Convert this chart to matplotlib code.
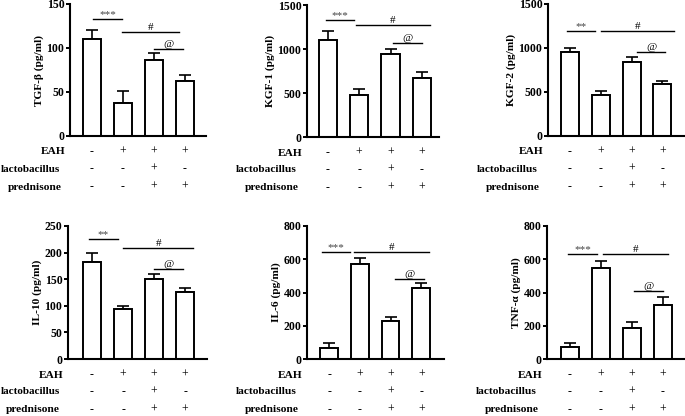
import matplotlib
matplotlib.use("Agg")
import matplotlib.pyplot as plt

plt.rcParams['font.family'] = ['Liberation Serif', 'DejaVu Serif']

groups = [0, 1, 2, 3]
row_names = ["EAH", "lactobacillus", "prednisone"]
row_signs = [["-", "+", "+", "+"],
             ["-", "-", "+", "-"],
             ["-", "-", "+", "+"]]

ylabels = ["TGF-β (pg/ml)", "KGF-1 (pg/ml)", "KGF-2 (pg/ml)",
           "IL-10 (pg/ml)", "IL-6 (pg/ml)", "TNF-α (pg/ml)"]

tgf_mean = [110, 37, 86, 62]
tgf_err = [10, 14, 8, 7]
kgf1_mean = [1100, 480, 940, 670]
kgf1_err = [100, 60, 60, 70]
kgf2_mean = [950, 470, 840, 590]
kgf2_err = [50, 40, 60, 40]
il10_mean = [183, 94, 150, 126]
il10_err = [16, 6, 10, 8]
il6_mean = [65, 570, 230, 425]
il6_err = [30, 40, 25, 30]
tnf_mean = [72, 545, 185, 325]
tnf_err = [25, 45, 40, 50]

means = [tgf_mean, kgf1_mean, kgf2_mean, il10_mean, il6_mean, tnf_mean]
errs = [tgf_err, kgf1_err, kgf2_err, il10_err, il6_err, tnf_err]
ymax = [150, 1500, 1500, 250, 800, 800]
ystep = [50, 500, 500, 50, 200, 200]

# significance annotations
sig_first = ["***", "***", "**", "**", "***", "***"]
sig_h1 = [133, 1330, 1193, 225, 644, 631]
sig_h2 = [118, 1270, 1193, 208, 644, 631]
sig_h3 = [99, 1070, 955, 169, 481, 409]
sig_x1 = [(0.03, 0.97), (-0.06, 0.84), (-0.1, 0.81), (-0.1, 0.84), (-0.23, 0.68), (-0.06, 0.87)]
sig_x2 = [(0.97, 2.8), (0.9, 3.26), (1.0, 3.39), (1.0, 3.26), (0.81, 3.26), (1.06, 3.16)]
sig_x3 = [(2.0, 2.94), (2.08, 3.0), (2.16, 3.1), (2.0, 2.94), (2.16, 3.1), (2.06, 3.0)]

# axes boxes in pixels: left, right, top, bottom
boxes = [(70, 206, 4, 136), (307, 439, 5, 137), (548, 684, 4, 136),
         (68, 207, 226, 359), (307, 444, 226, 359), (547, 684, 226, 359)]
xlims = [(-0.71, 3.68), (-0.67, 3.55), (-0.71, 3.7),
         (-0.77, 3.7), (-0.72, 3.74), (-0.74, 3.68)]

W, H = 685, 416
fig = plt.figure(figsize=(W / 100, H / 100), dpi=100)

for i in range(6):
    l, r, t, b = boxes[i]
    ax = fig.add_axes([l / W, 1 - b / H, (r - l) / W, (b - t) / H])
    ax.bar(groups, means[i], width=0.58, color="white", edgecolor="black",
           linewidth=1.4, zorder=2)
    ax.errorbar(groups, means[i], yerr=[[0] * 4, errs[i]], fmt="none",
                ecolor="black", elinewidth=1.2, capsize=4, capthick=1.2, zorder=1)
    ax.set_ylim(0, ymax[i])
    ax.set_xlim(*xlims[i])
    ax.set_yticks(range(0, ymax[i] + 1, ystep[i]))
    for lab in ax.get_yticklabels():
        lab.set_fontweight("bold")
    ax.tick_params(axis="y", labelsize=8.5, width=1.4, length=3, pad=1)
    ax.set_xticks([])
    for s in ["top", "right"]:
        ax.spines[s].set_visible(False)
    for s in ["left", "bottom"]:
        ax.spines[s].set_linewidth(1.5)
    ax.set_ylabel(ylabels[i], fontsize=8.2, fontweight="bold", labelpad=2)

    fs = 8
    for (xa, xb), h, lab, col in [(sig_x1[i], sig_h1[i], sig_first[i], "#444444"),
                                  (sig_x2[i], sig_h2[i], "#", "black"),
                                  (sig_x3[i], sig_h3[i], "@", "black")]:
        ax.plot([xa, xb], [h, h], color="black", lw=1, clip_on=False)
        ax.text((xa + xb) / 2, h, lab, ha="center", va="bottom", fontsize=fs,
                color=col, clip_on=False)

    # condition table
    row_off = [16, 33, 51]
    lab_off = [5, 10, 8]
    for k in range(3):
        yf = 1 - (b + row_off[k]) / H
        if i % 3 == 0 and k == 1:
            fig.text(1 / W, yf, row_names[k], ha="left", va="center",
                     fontsize=8.0, fontweight="bold")
        else:
            fig.text((l - lab_off[k]) / W, yf, row_names[k], ha="right", va="center",
                     fontsize=8.2, fontweight="bold")
        for g in groups:
            xd = ax.transData.transform((g, 0))[0]
            fig.text(xd / fig.bbox.width, yf, row_signs[k][g], ha="center",
                     va="center", fontsize=8.5)

fig.savefig("out.png", dpi=100)
